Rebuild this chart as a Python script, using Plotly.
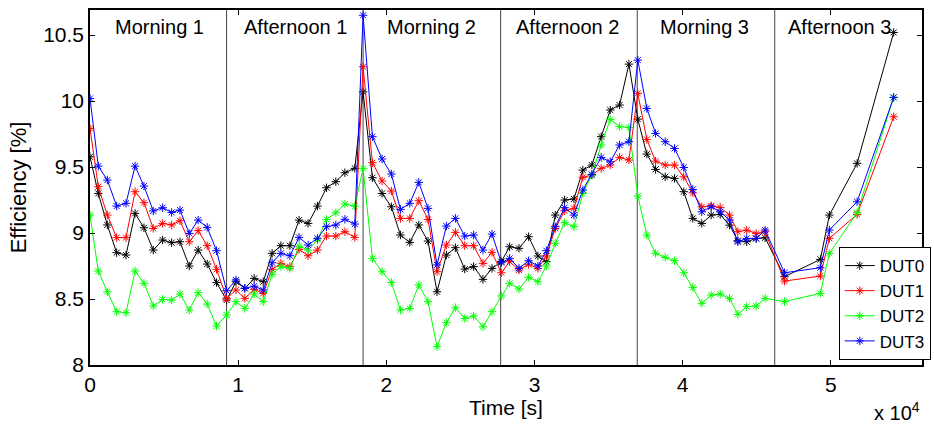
import plotly.graph_objects as go

# Time stamps [s]
time_s = [0, 560, 1170, 1800, 2430, 3040, 3640, 4270, 4900, 5510,
          6070, 6700, 7300, 7910, 8540, 9218, 9850, 10450, 11080, 11690,
          12290, 12880, 13490, 14110, 14720, 15350, 15960, 16590, 17200, 17870,
          18430, 19060, 19710, 20340, 20950, 21580, 22190, 22810, 23420, 24050,
          24660, 25290, 25890, 26520, 27130, 27760, 28320, 28950, 29600, 30230,
          30800, 31400, 32030, 32660, 33260, 33870, 34500, 35110, 35740, 36370,
          36970, 37580, 38170, 38820, 39450, 40070, 40680, 41290, 41920, 42530,
          43160, 43720, 44320, 44960, 45560, 46870, 49290, 49900, 51770, 54240]

dut0 = [9.578, 9.300, 9.061, 8.851, 8.833, 9.149, 9.040, 8.871, 8.947, 8.927,
        8.934, 8.750, 8.871, 8.765, 8.624, 8.492, 8.631, 8.581, 8.656, 8.631,
        8.846, 8.904, 8.904, 9.098, 9.073, 9.204, 9.343, 9.389, 9.457, 9.490,
        10.07, 9.419, 9.300, 9.199, 8.985, 8.929, 9.061, 8.939, 8.555, 8.833,
        8.889, 8.727, 8.745, 8.649, 8.732, 8.783, 8.896, 8.884, 8.972, 8.826,
        8.783, 9.136, 9.250, 9.258, 9.477, 9.515, 9.730, 9.932, 9.970, 10.280,
        9.863, 9.598, 9.482, 9.426, 9.414, 9.313, 9.111, 9.073, 9.136, 9.141,
        9.060, 8.942, 8.934, 8.959, 8.964, 8.669, 8.800, 9.136, 9.528, 10.520]

dut1 = [9.793, 9.351, 9.136, 8.965, 8.965, 9.313, 9.230, 9.035, 9.073, 9.061,
        9.093, 8.934, 9.018, 8.904, 8.725, 8.505, 8.568, 8.505, 8.573, 8.543,
        8.725, 8.770, 8.745, 8.876, 8.828, 8.871, 8.977, 8.977, 9.010, 8.967,
        10.26, 9.533, 9.394, 9.318, 9.111, 9.111, 9.245, 9.103, 8.707, 8.909,
        9.005, 8.904, 8.904, 8.770, 8.854, 8.699, 8.783, 8.720, 8.763, 8.732,
        8.826, 9.035, 9.169, 9.187, 9.422, 9.439, 9.490, 9.515, 9.573, 9.553,
        10.058, 9.709, 9.545, 9.515, 9.515, 9.426, 9.305, 9.199, 9.207, 9.194,
        9.136, 9.010, 9.022, 8.997, 9.010, 8.636, 8.674, 8.960, 9.141, 9.881]

dut2 = [9.136, 8.712, 8.555, 8.404, 8.396, 8.712, 8.619, 8.447, 8.497, 8.492,
        8.538, 8.416, 8.548, 8.462, 8.295, 8.379, 8.480, 8.429, 8.538, 8.480,
        8.687, 8.745, 8.732, 8.901, 8.871, 8.947, 9.103, 9.154, 9.220, 9.204,
        9.490, 8.808, 8.707, 8.626, 8.417, 8.429, 8.606, 8.480, 8.139, 8.321,
        8.434, 8.353, 8.371, 8.290, 8.404, 8.523, 8.619, 8.576, 8.664, 8.631,
        8.750, 8.922, 9.078, 9.048, 9.300, 9.439, 9.667, 9.861, 9.806, 9.800,
        9.280, 8.984, 8.846, 8.815, 8.790, 8.699, 8.588, 8.467, 8.530, 8.538,
        8.505, 8.384, 8.442, 8.447, 8.505, 8.480, 8.543, 8.846, 9.154, 10.028]

dut3 = [10.02, 9.507, 9.401, 9.204, 9.225, 9.507, 9.356, 9.167, 9.192, 9.156,
        9.174, 8.997, 9.098, 9.043, 8.866, 8.563, 8.644, 8.581, 8.598, 8.568,
        8.775, 8.846, 8.828, 8.967, 8.909, 8.960, 9.048, 9.061, 9.104, 9.068,
        10.65, 9.730, 9.561, 9.447, 9.179, 9.225, 9.384, 9.187, 8.758, 9.053,
        9.111, 8.977, 8.985, 8.871, 8.992, 8.775, 8.808, 8.732, 8.790, 8.750,
        8.866, 9.048, 9.192, 9.136, 9.326, 9.444, 9.573, 9.540, 9.667, 9.692,
        10.310, 9.944, 9.755, 9.692, 9.641, 9.497, 9.330, 9.161, 9.199, 9.161,
        9.098, 8.934, 8.959, 8.959, 9.022, 8.699, 8.737, 9.023, 9.237, 10.028]

series_names = ["DUT0", "DUT1", "DUT2", "DUT3"]
series_colors = ["#000000", "#ff0000", "#00ff00", "#0000ff"]

session_labels = ["Morning 1", "Afternoon 1", "Morning 2", "Afternoon 2", "Morning 3", "Afternoon 3"]
session_starts = [0, 9218, 18430, 27714, 36932, 46211]
session_label_x = [4720, 13890, 23060, 32230, 41470, 50570]

x_tickvals = [0, 10000, 20000, 30000, 40000, 50000]
x_ticktext = ["0", "1", "2", "3", "4", "5"]
y_tickvals = [8, 8.5, 9, 9.5, 10, 10.5]
y_ticktext = ["8", "8.5", "9", "9.5", "10", "10.5"]

FONT = "Liberation Sans, Arial, sans-serif"

fig = go.Figure()
for name, col, ys in zip(series_names, series_colors, [dut0, dut1, dut2, dut3]):
    fig.add_trace(go.Scatter(
        x=time_s, y=ys, name=name, mode="lines+markers",
        line=dict(color=col, width=1),
        marker=dict(symbol="asterisk-open", size=7, color=col,
                    line=dict(color=col, width=1)),
    ))

shapes = []
for s in session_starts[1:]:
    shapes.append(dict(type="line", xref="x", yref="paper", x0=s, x1=s, y0=0, y1=1,
                       line=dict(color="#444444", width=1), layer="below"))

annotations = []
for lbl, lx in zip(session_labels, session_label_x):
    annotations.append(dict(text=lbl, x=lx, xref="x", y=0.952, yref="paper",
                            showarrow=False, xanchor="center", yanchor="middle",
                            font=dict(family=FONT, size=20, color="black")))
annotations.append(dict(text="x 10<sup>4</sup>", x=1.0, xref="paper", y=-0.13, yref="paper",
                        showarrow=False, xanchor="right", yanchor="middle",
                        font=dict(family=FONT, size=20, color="black")))

fig.update_layout(
    width=934, height=428,
    margin=dict(l=90, r=12, t=10, b=63, autoexpand=False),
    paper_bgcolor="white", plot_bgcolor="white",
    font=dict(family=FONT, size=21, color="black"),
    shapes=shapes, annotations=annotations,
    legend=dict(x=0.9, xanchor="left", y=0.014, yanchor="bottom",
                bgcolor="white", bordercolor="black", borderwidth=1,
                font=dict(family=FONT, size=17, color="black"),
                tracegroupgap=0, itemwidth=30),
)
fig.update_xaxes(range=[0, 56150], tickvals=x_tickvals, ticktext=x_ticktext,
                 showgrid=False, zeroline=False, showline=True, linecolor="black",
                 linewidth=1.5, mirror="allticks", ticks="inside", ticklen=5,
                 tickcolor="black",
                 title=dict(text="Time [s]", font=dict(family=FONT, size=21), standoff=2))
fig.update_yaxes(range=[8, 10.69], tickvals=y_tickvals, ticktext=y_ticktext,
                 showgrid=False, zeroline=False, showline=True, linecolor="black",
                 linewidth=1.5, mirror="allticks", ticks="inside", ticklen=5,
                 tickcolor="black",
                 title=dict(text="Efficiency [%]", font=dict(family=FONT, size=22), standoff=10))

fig.write_html("out.html")
